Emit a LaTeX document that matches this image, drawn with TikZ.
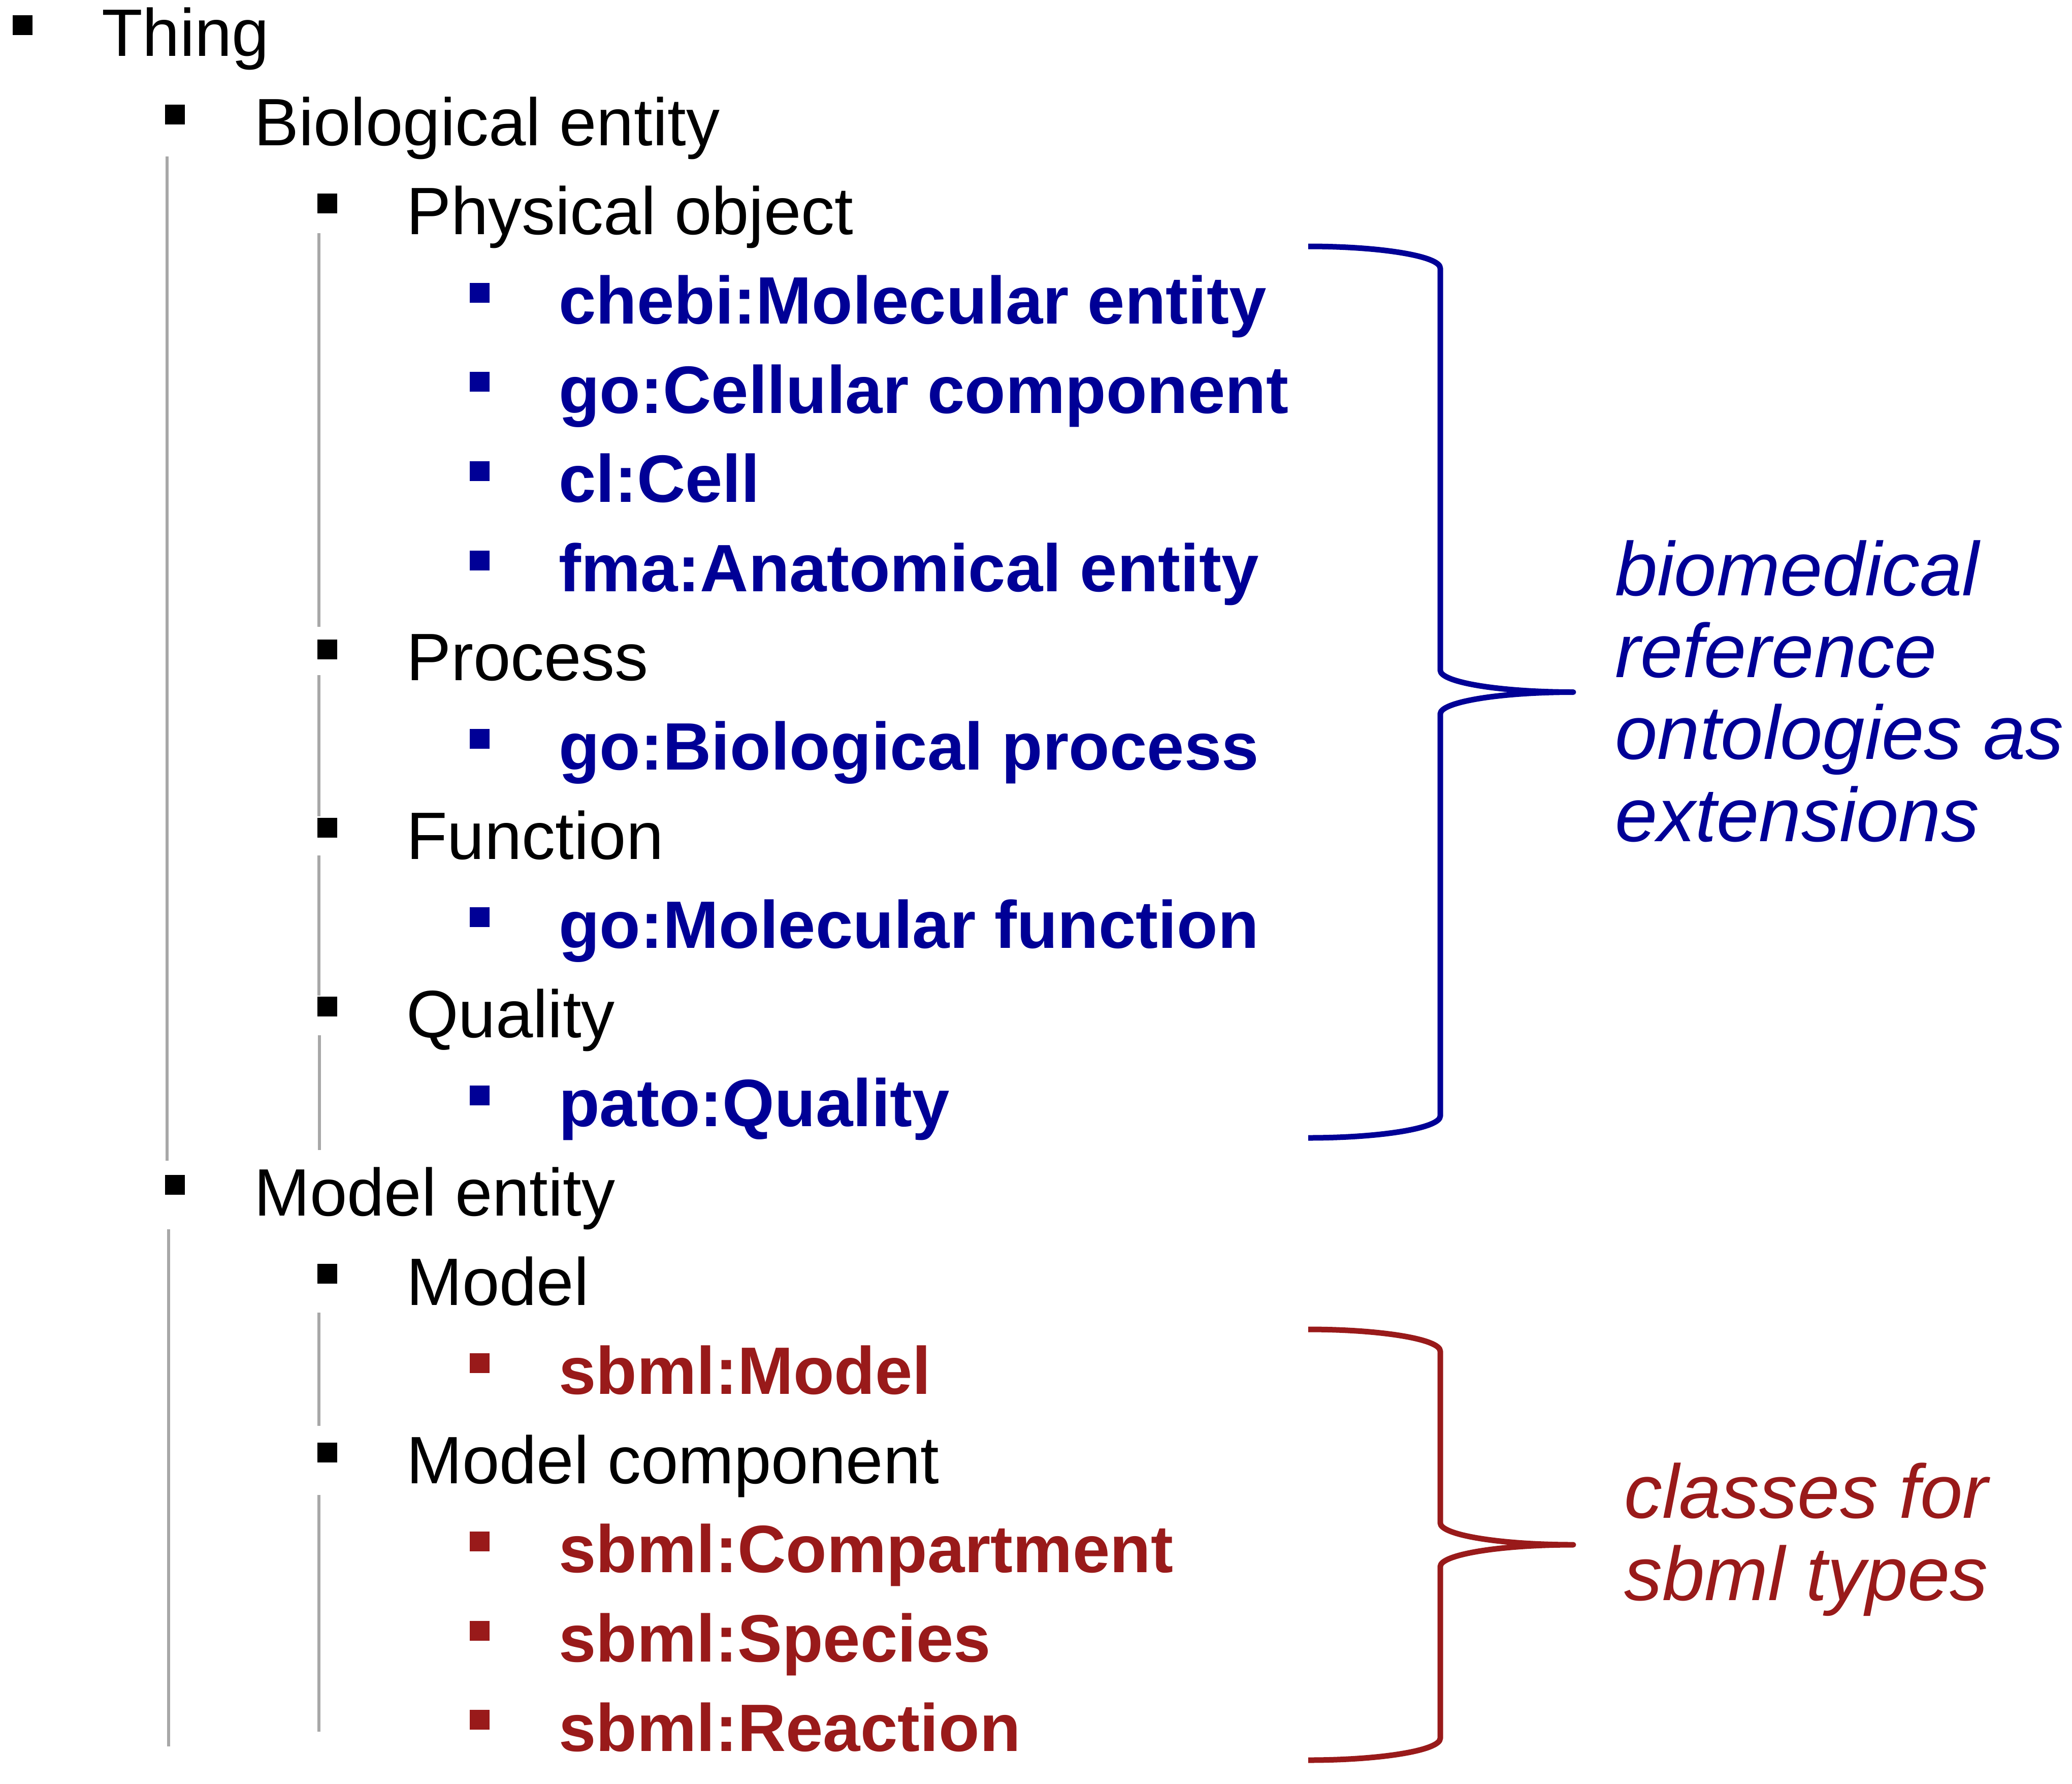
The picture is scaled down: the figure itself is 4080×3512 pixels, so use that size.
\documentclass[tikz,border=0pt]{standalone}
\usepackage{fontspec}
\setmainfont{Liberation Sans}
\definecolor{obblue}{RGB}{0,0,150}
\definecolor{obred}{RGB}{153,26,26}
\definecolor{guidegray}{RGB}{168,168,168}
\newcommand\oitem[6]{%
  \node[bul, fill=#4] (#1-b) at ({24.5+300*#2},{110.7+175.6*#3-81}) {};
  \node[txt, text=#4, #5] (#1) at ({200+300*#2},{110.7+175.6*#3}) {#6};
}
\begin{document}
\begin{tikzpicture}[x=1pt,y=-1pt,
  txt/.style={anchor=base west, inner sep=0pt, font=\fontsize{132}{158}\selectfont},
  bld/.style={font=\fontsize{132}{158}\selectfont\bfseries},
  bul/.style={anchor=north west, inner sep=0pt, minimum size=39pt, draw=none},
  guide/.style={draw=guidegray, line width=5.5pt},
  brace/.style={line width=11pt, line join=round},
  lab/.style={anchor=base west, inner sep=0pt, font=\fontsize{150}{161}\selectfont\itshape}]
\useasboundingbox (0,0) rectangle (4080,3512);

% guide lines
\draw[guide] (329,308) -- (329,2285);
\draw[guide] (332,2420) -- (332,3438);
\draw[guide] (628,459) -- (628,1234);
\draw[guide] (628,1329) -- (628,1607);
\draw[guide] (628,1684) -- (628,1960);
\draw[guide] (629,2038) -- (629,2264);
\draw[guide] (628,2584) -- (628,2807);
\draw[guide] (628,2943) -- (628,3409);

% items
\oitem{thing}{0}{0}{black}{}{Thing}
\oitem{bio}{1}{1}{black}{}{Biological entity}
\oitem{phys}{2}{2}{black}{}{Physical object}
\oitem{chebi}{3}{3}{obblue}{bld}{chebi:Molecular entity}
\oitem{gocc}{3}{4}{obblue}{bld}{go:Cellular component}
\oitem{cl}{3}{5}{obblue}{bld}{cl:Cell}
\oitem{fma}{3}{6}{obblue}{bld}{fma:Anatomical entity}
\oitem{proc}{2}{7}{black}{}{Process}
\oitem{gobp}{3}{8}{obblue}{bld}{go:Biological process}
\oitem{func}{2}{9}{black}{}{Function}
\oitem{gomf}{3}{10}{obblue}{bld}{go:Molecular function}
\oitem{qual}{2}{11}{black}{}{Quality}
\oitem{pato}{3}{12}{obblue}{bld}{pato:Quality}
\oitem{modent}{1}{13}{black}{}{Model entity}
\oitem{model}{2}{14}{black}{}{Model}
\oitem{sbmlmodel}{3}{15}{obred}{bld}{sbml:Model}
\oitem{modcomp}{2}{16}{black}{}{Model component}
\oitem{comp}{3}{17}{obred}{bld}{sbml:Compartment}
\oitem{species}{3}{18}{obred}{bld}{sbml:Species}
\oitem{reaction}{3}{19}{obred}{bld}{sbml:Reaction}

% braces
\draw[brace, obblue] (2576,485) .. controls (2719.6,485) and (2836,504.3) .. (2836,528)
  -- (2836,1319.5)
  .. controls (2836,1343.2) and (2953.3,1362.5) .. (3098,1362.5)
  .. controls (2953.3,1362.5) and (2836,1381.8) .. (2836,1405.5)
  -- (2836,2197)
  .. controls (2836,2220.7) and (2719.6,2240) .. (2576,2240);
\draw[brace, obred] (2576,2617) .. controls (2719.6,2617) and (2836,2636.3) .. (2836,2660)
  -- (2836,2998)
  .. controls (2836,3021.7) and (2953.3,3041) .. (3098,3041)
  .. controls (2953.3,3041) and (2836,3060.3) .. (2836,3084)
  -- (2836,3422)
  .. controls (2836,3445.7) and (2719.6,3465) .. (2576,3465);

% labels
\node[lab, text=obblue] (bl1) at (3180,1172) {biomedical};
\node[lab, text=obblue] (bl2) at (3180,1333) {reference};
\node[lab, text=obblue] (bl3) at (3180,1494) {ontologies as};
\node[lab, text=obblue] (bl4) at (3180,1656) {extensions};
\node[lab, text=obred] (rl1) at (3198,2988) {classes for};
\node[lab, text=obred] (rl2) at (3198,3150) {sbml types};
\end{tikzpicture}
\end{document}
